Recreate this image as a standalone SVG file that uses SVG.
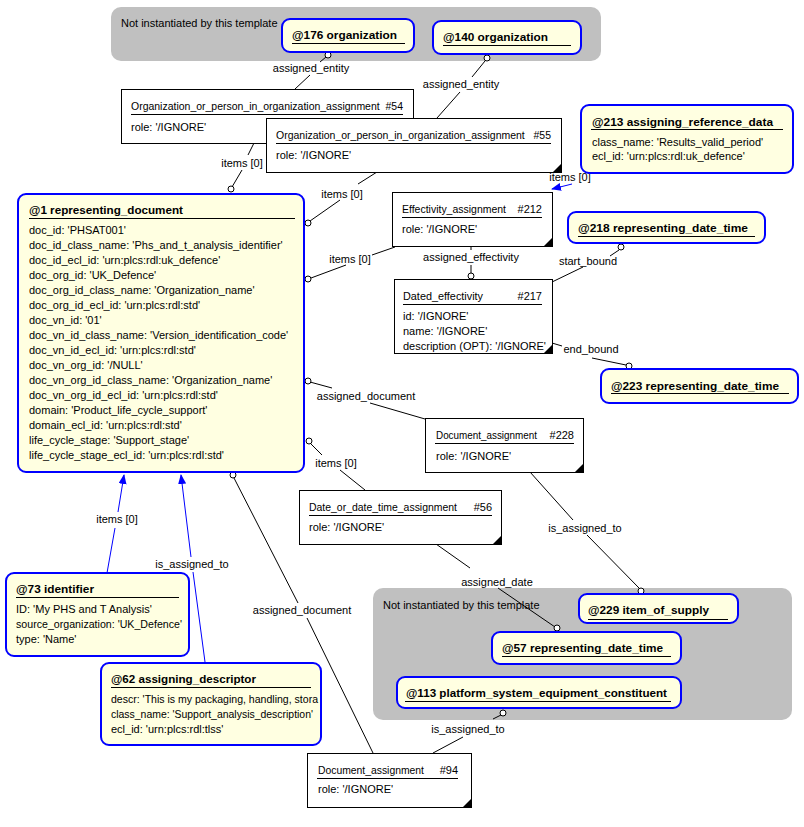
<svg xmlns="http://www.w3.org/2000/svg" width="804" height="827" viewBox="0 0 804 827">
<style>
text{font-family:"Liberation Sans",Arial,sans-serif;font-size:11px;fill:#000}
.t{font-weight:bold;font-size:11.5px}
.ref{fill:#FFFFE1;stroke:#0000FF;stroke-width:2}
.box{fill:#FFFFFF;stroke:#000;stroke-width:1}
.grp{fill:#C0C0C0;stroke:none}
.ul{stroke:#000;stroke-width:1}
.c{stroke:#000;stroke-width:1;fill:none}
.b{stroke:#0000FF;stroke-width:1;fill:none}
.o{fill:#fff;stroke:#000;stroke-width:1}
.tri{fill:#000}
.m{text-anchor:middle}
.e{text-anchor:end}
</style>
<defs>
<marker id="arr" markerWidth="10" markerHeight="8" refX="9" refY="4" orient="auto" markerUnits="userSpaceOnUse">
<path d="M0,0 L10,4 L0,8 z" fill="#0000FF"/>
</marker>
<clipPath id="clip62"><rect x="102" y="664" width="217" height="80"/></clipPath>
</defs>
<rect width="804" height="827" fill="#fff"/>

<g id="group-top">
<rect class="grp" x="111" y="7" width="490" height="54" rx="10"/>
<text x="121" y="27">Not instantiated by this template</text>
</g>
<g id="group-bottom">
<rect class="grp" x="373" y="588" width="419" height="132" rx="10"/>
<text x="383" y="609">Not instantiated by this template</text>
</g>

<g id="connectors">
<line class="c" x1="326" y1="57" x2="320" y2="62"/>
<line class="c" x1="310" y1="75" x2="295" y2="89"/>
<text class="m" x="311" y="72">assigned_entity</text>
<circle class="o" cx="328" cy="55" r="3"/>
<line class="c" x1="485" y1="61" x2="472" y2="77"/>
<line class="c" x1="460" y1="92" x2="437" y2="118"/>
<text class="m" x="461" y="88">assigned_entity</text>
<circle class="o" cx="487" cy="58" r="3"/>
<line class="c" x1="254" y1="143" x2="248" y2="155"/>
<line class="c" x1="242" y1="170" x2="232" y2="187"/>
<text class="m" x="242" y="167">items [0]</text>
<circle class="o" cx="231" cy="189" r="3"/>
<line class="c" x1="377" y1="172" x2="358" y2="184"/>
<line class="c" x1="340" y1="200" x2="310" y2="221"/>
<text class="m" x="342" y="198">items [0]</text>
<circle class="o" cx="308" cy="223" r="3"/>
<line class="c" x1="395" y1="247" x2="372" y2="255"/>
<line class="c" x1="346" y1="265" x2="311" y2="278"/>
<text class="m" x="350" y="263">items [0]</text>
<circle class="o" cx="308" cy="279" r="3"/>
<line class="c" x1="471" y1="246" x2="471" y2="250"/>
<line class="c" x1="471" y1="265" x2="471" y2="273"/>
<text class="m" x="471" y="261">assigned_effectivity</text>
<circle class="o" cx="471" cy="276" r="3"/>
<line class="c" x1="552" y1="282" x2="583" y2="267"/>
<line class="c" x1="610" y1="256" x2="619" y2="250"/>
<text class="m" x="588" y="265">start_bound</text>
<circle class="o" cx="621" cy="247" r="3"/>
<line class="c" x1="552" y1="343" x2="562" y2="346"/>
<line class="c" x1="592" y1="358" x2="626" y2="365"/>
<text class="m" x="591" y="353">end_bound</text>
<circle class="o" cx="629" cy="366" r="3"/>
<line class="c" x1="310" y1="382" x2="332" y2="388"/>
<line class="c" x1="370" y1="403" x2="425" y2="419"/>
<text class="m" x="366" y="400">assigned_document</text>
<circle class="o" cx="308" cy="381" r="3"/>
<line class="c" x1="311" y1="444" x2="322" y2="455"/>
<line class="c" x1="340" y1="470" x2="365" y2="490"/>
<text class="m" x="336" y="467">items [0]</text>
<circle class="o" cx="309" cy="441" r="3"/>
<line class="c" x1="530" y1="472" x2="573" y2="520"/>
<line class="c" x1="587" y1="535" x2="639" y2="588"/>
<text class="m" x="585" y="532">is_assigned_to</text>
<circle class="o" cx="641" cy="591" r="3"/>
<line class="c" x1="436" y1="544" x2="470" y2="568"/>
<line class="c" x1="498" y1="588" x2="555" y2="627"/>
<text class="m" x="497" y="586">assigned_date</text>
<circle class="o" cx="557" cy="628" r="3"/>
<line class="c" x1="501" y1="715" x2="493" y2="719"/>
<line class="c" x1="463" y1="737" x2="433" y2="753"/>
<text class="m" x="468" y="733">is_assigned_to</text>
<circle class="o" cx="503" cy="713" r="3"/>
<line class="c" x1="234" y1="478" x2="298" y2="603"/>
<line class="c" x1="307" y1="618" x2="373" y2="753"/>
<text class="m" x="302" y="614">assigned_document</text>
<circle class="o" cx="233" cy="475" r="3"/>
<line class="b" x1="107" y1="573" x2="115" y2="528"/>
<line class="b" x1="118" y1="512" x2="124" y2="475" marker-end="url(#arr)"/>
<text class="m" x="117" y="523">items [0]</text>
<line class="b" x1="205" y1="662" x2="193" y2="572"/>
<line class="b" x1="191" y1="557" x2="181" y2="475" marker-end="url(#arr)"/>
<text class="m" x="192" y="568">is_assigned_to</text>
<line class="b" x1="572" y1="184" x2="552" y2="189" marker-end="url(#arr)"/>
<text class="m" x="570" y="181">items [0]</text>
</g>

<g id="n176">
<rect class="ref" x="282" y="19" width="132" height="33" rx="8"/>
<text class="t" x="292" y="39" textLength="105" lengthAdjust="spacingAndGlyphs">@176 organization</text>
<line class="ul" x1="292" y1="43.5" x2="405" y2="43.5"/>
</g>
<g id="n140">
<rect class="ref" x="433" y="21" width="148" height="33" rx="8"/>
<text class="t" x="443" y="41" textLength="105" lengthAdjust="spacingAndGlyphs">@140 organization</text>
<line class="ul" x1="443" y1="45.5" x2="571" y2="45.5"/>
</g>

<g id="n54">
<rect class="box" x="121.5" y="89.5" width="292" height="54"/>
<text x="131" y="110" xml:space="preserve" textLength="272" lengthAdjust="spacingAndGlyphs">Organization_or_person_in_organization_assignment  #54</text>
<line class="ul" x1="131" y1="114.5" x2="403" y2="114.5"/>
<text x="131" y="131">role: '/IGNORE'</text>
</g>
<g id="n55">
<rect class="box" x="266.5" y="118.5" width="295" height="54"/>
<text x="276" y="139" xml:space="preserve" textLength="275" lengthAdjust="spacingAndGlyphs">Organization_or_person_in_organization_assignment   #55</text>
<line class="ul" x1="276" y1="143.5" x2="551" y2="143.5"/>
<text x="276" y="159">role: '/IGNORE'</text>
<path class="tri" d="M562,163 L562,173 L552,173 z"/>
</g>

<g id="n213">
<rect class="ref" x="581" y="105" width="212" height="68" rx="8"/>
<text class="t" x="592" y="126" textLength="181" lengthAdjust="spacingAndGlyphs">@213 assigning_reference_data</text>
<line class="ul" x1="591" y1="129.5" x2="783" y2="129.5"/>
<text x="592" y="146">class_name: 'Results_valid_period'</text>
<text x="592" y="160">ecl_id: 'urn:plcs:rdl:uk_defence'</text>
</g>

<g id="n218">
<rect class="ref" x="568" y="212" width="197" height="31" rx="8"/>
<text class="t" x="578" y="232" textLength="170" lengthAdjust="spacingAndGlyphs">@218 representing_date_time</text>
<line class="ul" x1="578" y1="236.5" x2="755" y2="236.5"/>
</g>

<g id="n1">
<rect class="ref" x="18" y="194" width="286" height="278" rx="8"/>
<text class="t" x="29" y="214" textLength="154" lengthAdjust="spacingAndGlyphs">@1 representing_document</text>
<line class="ul" x1="29" y1="218.5" x2="295" y2="218.5"/>
<text x="29" y="234">doc_id: 'PHSAT001'</text>
<text x="29" y="249">doc_id_class_name: 'Phs_and_t_analysis_identifier'</text>
<text x="29" y="264">doc_id_ecl_id: 'urn:plcs:rdl:uk_defence'</text>
<text x="29" y="279">doc_org_id: 'UK_Defence'</text>
<text x="29" y="294">doc_org_id_class_name: 'Organization_name'</text>
<text x="29" y="309">doc_org_id_ecl_id: 'urn:plcs:rdl:std'</text>
<text x="29" y="324">doc_vn_id: '01'</text>
<text x="29" y="339">doc_vn_id_class_name: 'Version_identification_code'</text>
<text x="29" y="354">doc_vn_id_ecl_id: 'urn:plcs:rdl:std'</text>
<text x="29" y="369">doc_vn_org_id: '/NULL'</text>
<text x="29" y="384">doc_vn_org_id_class_name: 'Organization_name'</text>
<text x="29" y="399">doc_vn_org_id_ecl_id: 'urn:plcs:rdl:std'</text>
<text x="29" y="414">domain: 'Product_life_cycle_support'</text>
<text x="29" y="429">domain_ecl_id: 'urn:plcs:rdl:std'</text>
<text x="29" y="444">life_cycle_stage: 'Support_stage'</text>
<text x="29" y="459">life_cycle_stage_ecl_id: 'urn:plcs:rdl:std'</text>
</g>

<g id="n212">
<rect class="box" x="392.5" y="192.5" width="160" height="54"/>
<text x="402" y="213" textLength="104" lengthAdjust="spacingAndGlyphs">Effectivity_assignment</text>
<text class="e" x="542" y="213">#212</text>
<line class="ul" x1="402" y1="217.5" x2="542" y2="217.5"/>
<text x="402" y="233">role: '/IGNORE'</text>
<path class="tri" d="M553,237 L553,247 L543,247 z"/>
</g>

<g id="n217">
<rect class="box" x="394.5" y="279.5" width="158" height="74"/>
<text x="403" y="300" textLength="80" lengthAdjust="spacingAndGlyphs">Dated_effectivity</text>
<text class="e" x="542" y="300">#217</text>
<line class="ul" x1="403" y1="304.5" x2="542" y2="304.5"/>
<text x="403" y="320">id: '/IGNORE'</text>
<text x="403" y="335">name: '/IGNORE'</text>
<text x="403" y="350">description (OPT): '/IGNORE'</text>
<path class="tri" d="M553,344 L553,354 L543,354 z"/>
</g>

<g id="n223">
<rect class="ref" x="601" y="369" width="197" height="34" rx="8"/>
<text class="t" x="611" y="390" textLength="168" lengthAdjust="spacingAndGlyphs">@223 representing_date_time</text>
<line class="ul" x1="611" y1="393.5" x2="789" y2="393.5"/>
</g>

<g id="n228">
<rect class="box" x="425.5" y="418.5" width="158" height="54"/>
<text x="436" y="439" textLength="101" lengthAdjust="spacingAndGlyphs">Document_assignment</text>
<text class="e" x="574" y="439">#228</text>
<line class="ul" x1="435" y1="443.5" x2="574" y2="443.5"/>
<text x="436" y="460">role: '/IGNORE'</text>
<path class="tri" d="M584,463 L584,473 L574,473 z"/>
</g>

<g id="n56">
<rect class="box" x="299.5" y="490.5" width="202" height="54"/>
<text x="309" y="511" textLength="148" lengthAdjust="spacingAndGlyphs">Date_or_date_time_assignment</text>
<text class="e" x="492" y="511">#56</text>
<line class="ul" x1="309" y1="515.5" x2="492" y2="515.5"/>
<text x="309" y="531">role: '/IGNORE'</text>
<path class="tri" d="M502,535 L502,545 L492,545 z"/>
</g>

<g id="n229">
<rect class="ref" x="579" y="594" width="159" height="29" rx="8"/>
<text class="t" x="588" y="614" textLength="121" lengthAdjust="spacingAndGlyphs">@229 item_of_supply</text>
<line class="ul" x1="588" y1="619.5" x2="728" y2="619.5"/>
</g>
<g id="n57">
<rect class="ref" x="492" y="632" width="189" height="32" rx="8"/>
<text class="t" x="502" y="652" textLength="161" lengthAdjust="spacingAndGlyphs">@57 representing_date_time</text>
<line class="ul" x1="502" y1="656.5" x2="671" y2="656.5"/>
</g>
<g id="n113">
<rect class="ref" x="397" y="677" width="284" height="31" rx="8"/>
<text class="t" x="406" y="697" textLength="261" lengthAdjust="spacingAndGlyphs">@113 platform_system_equipment_constituent</text>
<line class="ul" x1="405" y1="701.5" x2="671" y2="701.5"/>
</g>

<g id="n94">
<rect class="box" x="307.5" y="753.5" width="164" height="54"/>
<text x="318" y="774" textLength="106" lengthAdjust="spacingAndGlyphs">Document_assignment</text>
<text class="e" x="458" y="774">#94</text>
<line class="ul" x1="317" y1="778.5" x2="458" y2="778.5"/>
<text x="318" y="793">role: '/IGNORE'</text>
<path class="tri" d="M472,798 L472,808 L462,808 z"/>
</g>

<g id="n73">
<rect class="ref" x="6" y="573" width="183" height="83" rx="8"/>
<text class="t" x="16" y="593" textLength="78" lengthAdjust="spacingAndGlyphs">@73 identifier</text>
<line class="ul" x1="16" y1="597.5" x2="179" y2="597.5"/>
<text x="16" y="613">ID: 'My PHS and T Analysis'</text>
<text x="16" y="628" textLength="166" lengthAdjust="spacingAndGlyphs">source_organization: 'UK_Defence'</text>
<text x="16" y="643">type: 'Name'</text>
</g>

<g id="n62">
<rect class="ref" x="101" y="663" width="220" height="82" rx="8"/>
<text class="t" x="111" y="683" textLength="145" lengthAdjust="spacingAndGlyphs">@62 assigning_descriptor</text>
<line class="ul" x1="111" y1="687.5" x2="311" y2="687.5"/>
<g clip-path="url(#clip62)">
<text x="111" y="703" textLength="207" lengthAdjust="spacingAndGlyphs">descr: 'This is my packaging, handling, stora</text>
</g>
<text x="111" y="718" textLength="202" lengthAdjust="spacingAndGlyphs">class_name: 'Support_analysis_description'</text>
<text x="111" y="733">ecl_id: 'urn:plcs:rdl:tlss'</text>
</g>
</svg>
